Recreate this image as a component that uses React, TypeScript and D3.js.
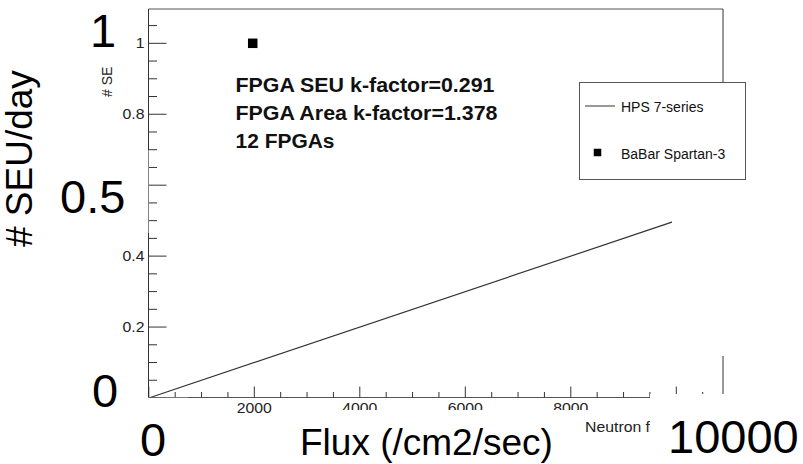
import React from "react";
import * as d3 from "d3";

// HPS 7-series expected SEU rate vs neutron flux
const hpsFlux = [0, 10000];
const hpsSeu = [0, 0.5];

// BaBar Spartan-3 measurement
const babarFlux = [1970];
const babarSeu = [1.0];

// Axis ticks and the printed tick labels
const xMajorTicks = [0, 2000, 4000, 6000, 8000, 10000];
const xLabelTicks = [2000, 4000, 6000, 8000];
const xTickLabels = ["2000", "4000", "6000", "8000"];
const yMajorTicks = [0, 0.2, 0.4, 0.6, 0.8, 1];
const yLabelTicks = [0.2, 0.4, 0.8, 1];
const yTickLabels = ["0.2", "0.4", "0.8", "1"];

const noteLines = [
  "FPGA SEU k-factor=0.291",
  "FPGA Area k-factor=1.378",
  "12 FPGAs",
];
const noteWidths = [259, 262, 99];

const legendLabels = ["HPS 7-series", "BaBar Spartan-3"];

const W = 803;
const H = 464;

export default function App() {
  const x = d3.scaleLinear().domain([0, 10000]).range([148.8, 676.3]);
  const y = d3.scaleLinear().domain([0, 1]).range([398, 43.3]);

  const frameL = 148.5;
  const frameR = 723;
  const frameT = 9;
  const frameB = 397.5;

  const xMinor = d3.range(0, 10900, 500).filter((v) => v % 2000 !== 0);
  const yMinor = d3
    .range(0, 1.09, 0.05)
    .filter((v) => Math.abs(v / 0.2 - Math.round(v / 0.2)) > 1e-6);

  const line = d3
    .line<number>()
    .x((_, i) => x(hpsFlux[i]))
    .y((d) => y(d));

  const sans = "'Liberation Sans', Arial, Helvetica, sans-serif";
  const axisCol = "#555";
  const tickCol = "#333";
  const stretch = 1.13;

  return (
    <svg
      width={W}
      height={H}
      style={{ position: "fixed", left: 0, top: 0, background: "#fff" }}
      fontFamily={sans}
    >
      <defs>
        <clipPath id="clipXTitle">
          <rect x={560} y={400} width={90} height={40} />
        </clipPath>
        <clipPath id="clipYTitle">
          <rect x={90} y={66} width={30} height={40} />
        </clipPath>
        <clipPath id="clipXLabels">
          <rect x={0} y={0} width={295} height={H} />
          <rect x={295} y={0} width={W - 295} height={410} />
        </clipPath>
      </defs>
      <rect x={0} y={0} width={W} height={H} fill="#fff" />

      {/* frame */}
      <line x1={frameL} x2={frameR} y1={frameT} y2={frameT} stroke={axisCol} strokeWidth={1} />
      <line x1={frameL} x2={frameL} y1={frameT} y2={frameB} stroke={tickCol} strokeWidth={1} />
      <line x1={frameR} x2={frameR} y1={frameT} y2={frameB} stroke={tickCol} strokeWidth={1} />
      <line x1={frameL} x2={frameR} y1={frameB} y2={frameB} stroke={axisCol} strokeWidth={1.2} />

      {/* y ticks */}
      {yMajorTicks.map((v) => (
        <line key={"ym" + v} x1={frameL} x2={frameL + 18} y1={y(v)} y2={y(v)} stroke={tickCol} />
      ))}
      {yMinor.map((v) => (
        <line key={"yn" + v} x1={frameL} x2={frameL + 8.5} y1={y(v)} y2={y(v)} stroke={tickCol} />
      ))}
      {yLabelTicks.map((v, i) => (
        <g key={"yl" + v} transform={`translate(144.5,${y(v) + 5}) scale(${stretch},1)`}>
          <text x={0} y={0} fontSize={14} textAnchor="end" fill="#222">
            {yTickLabels[i]}
          </text>
        </g>
      ))}

      {/* x ticks */}
      {xMajorTicks.map((v) => (
        <line key={"xm" + v} x1={x(v)} x2={x(v)} y1={frameB} y2={frameB - 11} stroke={tickCol} />
      ))}
      {xMinor.map((v) => (
        <line key={"xn" + v} x1={x(v)} x2={x(v)} y1={frameB} y2={frameB - 5.5} stroke={tickCol} />
      ))}
      <g clipPath="url(#clipXLabels)">
        {xLabelTicks.map((v, i) => (
          <g key={"xl" + v} transform={`translate(${x(v)},413) scale(${stretch},1)`}>
            <text x={0} y={0} fontSize={14} textAnchor="middle" fill="#222">
              {xTickLabels[i]}
            </text>
          </g>
        ))}
      </g>

      {/* axis titles */}
      <g clipPath="url(#clipXTitle)">
        <g transform={`translate(585,431.5) scale(${stretch},1)`}>
          <text x={0} y={0} fontSize={14} fill="#222">
            Neutron flux (/cm2/sec)
          </text>
        </g>
      </g>
      <g clipPath="url(#clipYTitle)">
        <text transform="translate(112,97) rotate(-90)" fontSize={14} fill="#222">
          # SEU/day
        </text>
      </g>

      {/* HPS line */}
      <path d={line(hpsSeu) || ""} fill="none" stroke="#333" strokeWidth={1.2} />

      {/* BaBar point */}
      {babarFlux.map((f, i) => (
        <rect
          key={"bb" + i}
          x={x(f) - 4.75}
          y={y(babarSeu[i]) - 4.75}
          width={9.5}
          height={9.5}
          fill="#000"
        />
      ))}

      {/* notes */}
      {noteLines.map((t, i) => (
        <text
          key={"n" + i}
          x={235.5}
          y={91.7 + i * 28.3}
          fontSize={19.5}
          fontWeight="bold"
          fill="#111"
          textLength={noteWidths[i]}
          lengthAdjust="spacingAndGlyphs"
        >
          {t}
        </text>
      ))}

      {/* large overlay labels on white panels */}
      <rect x={672} y={180} width={131} height={176} fill="#fff" />
      <text x={90} y={47} fontSize={47} fill="#000">1</text>

      <rect x={55} y={150} width={93.4} height={83} fill="#fff" />
      <text x={60} y={213} fontSize={47} fill="#000">0.5</text>

      <text x={92} y={407} fontSize={47} fill="#000">0</text>

      <rect x={120} y={397.8} width={68} height={66} fill="#fff" />
      <text x={140} y={456} fontSize={47} fill="#000">0</text>

      <text x={300} y={455} fontSize={37} fill="#000">Flux (/cm2/sec)</text>

      <rect x={650} y={394} width={153} height={70} fill="#fff" />
      <text x={668} y={453} fontSize={47} fill="#000">10000</text>

      <text transform="translate(32,247) rotate(-90)" fontSize={37} fill="#000">
        # SEU/day
      </text>

      {/* legend */}
      <rect x={579.5} y={82.5} width={166} height={97} fill="#fff" stroke="#555" strokeWidth={1} />
      <line x1={585} x2={615} y1={106} y2={106} stroke="#333" strokeWidth={1} />
      <text x={621} y={111.5} fontSize={14} fill="#111">{legendLabels[0]}</text>
      <rect x={593.75} y={148.75} width={7.5} height={7.5} fill="#000" />
      <text x={621} y={159} fontSize={14} fill="#111">{legendLabels[1]}</text>
    </svg>
  );
}
